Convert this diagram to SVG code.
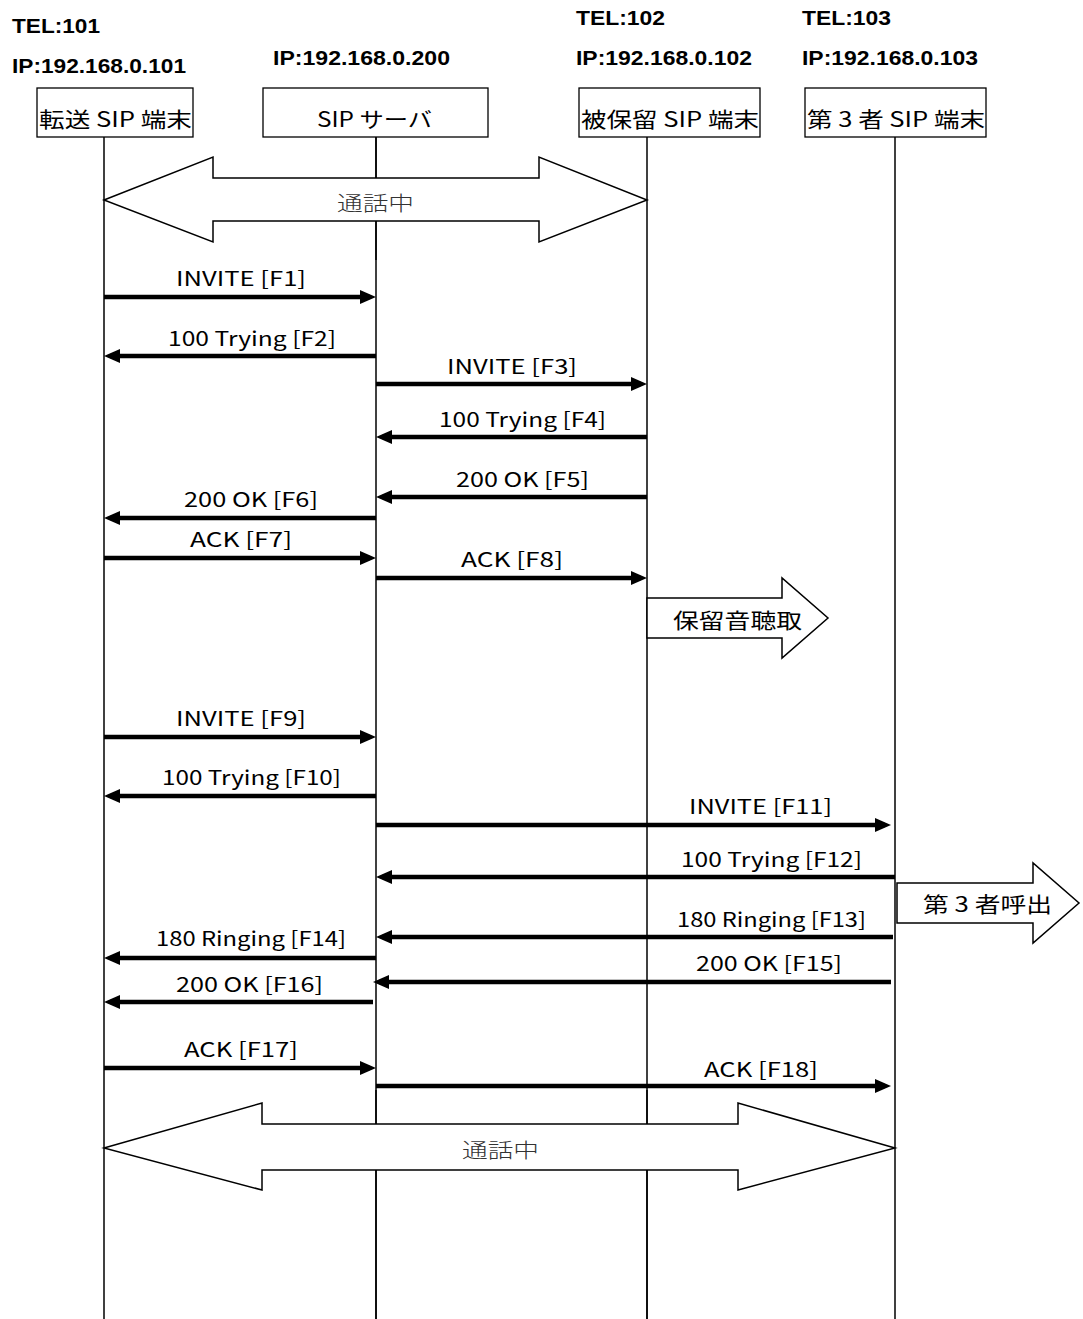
<svg xmlns="http://www.w3.org/2000/svg" width="1083" height="1319" viewBox="0 0 1083 1319">
<style>
.hdr{font-family:"Liberation Sans","Noto Sans CJK JP",sans-serif;font-weight:bold;font-size:20px;fill:#000}
.box{fill:#fff;stroke:#000;stroke-width:1.3}
.nt{font-family:"Noto Sans CJK JP",sans-serif;font-size:21px;fill:#000}
.life{stroke:#000;stroke-width:1.5;fill:none}
.msg{stroke:#000;stroke-width:4.5;fill:none}
.ml{font-family:"Noto Sans CJK JP",sans-serif;font-size:20px;fill:#000}
.blk{fill:#fff;stroke:#000;stroke-width:1.5}
.call{font-family:"Noto Sans CJK JP",sans-serif;font-size:20px;fill:#333;font-weight:300}
.bl{font-family:"Noto Sans CJK JP",sans-serif;font-size:21px;fill:#000}
</style>
<defs>
<marker id="ah" markerUnits="userSpaceOnUse" markerWidth="17" markerHeight="15" refX="10" refY="7" orient="auto">
<path d="M0,0 L16,7 L0,14 z" fill="#000"/>
</marker>
</defs>
<rect width="1083" height="1319" fill="#fff"/>

<g id="lifelines">
<line class="life" x1="104" y1="137" x2="104" y2="1319"/>
<line class="life" x1="376" y1="137" x2="376" y2="1319"/>
<line class="life" x1="647" y1="137" x2="647" y2="1319"/>
<line class="life" x1="895" y1="137" x2="895" y2="1319"/>
</g>

<g id="node-transfer">
<text class="hdr" x="12" y="33" textLength="88" lengthAdjust="spacingAndGlyphs">TEL:101</text>
<text class="hdr" x="12" y="73" textLength="174" lengthAdjust="spacingAndGlyphs">IP:192.168.0.101</text>
<rect class="box" x="37" y="88" width="156" height="49"/>
<text class="nt" x="39" y="127" textLength="153" lengthAdjust="spacingAndGlyphs">転送 SIP 端末</text>
</g>
<g id="node-server">
<text class="hdr" x="273" y="65" textLength="177" lengthAdjust="spacingAndGlyphs">IP:192.168.0.200</text>
<rect class="box" x="263" y="88" width="225" height="49"/>
<text class="nt" x="317" y="127" textLength="115" lengthAdjust="spacingAndGlyphs">SIP サーバ</text>
</g>
<g id="node-held">
<text class="hdr" x="576" y="25" textLength="89" lengthAdjust="spacingAndGlyphs">TEL:102</text>
<text class="hdr" x="576" y="65" textLength="176" lengthAdjust="spacingAndGlyphs">IP:192.168.0.102</text>
<rect class="box" x="579" y="88" width="181" height="49"/>
<text class="nt" x="581" y="127" textLength="178" lengthAdjust="spacingAndGlyphs">被保留 SIP 端末</text>
</g>
<g id="node-third">
<text class="hdr" x="802" y="25" textLength="89" lengthAdjust="spacingAndGlyphs">TEL:103</text>
<text class="hdr" x="802" y="65" textLength="176" lengthAdjust="spacingAndGlyphs">IP:192.168.0.103</text>
<rect class="box" x="805" y="88" width="181" height="49"/>
<text class="nt" x="807" y="127" textLength="178" lengthAdjust="spacingAndGlyphs">第 3 者 SIP 端末</text>
</g>

<g id="call-top">
<polygon class="blk" points="104,200 213,157 213,178 539,178 539,157 647,200 539,242 539,221 213,221 213,242"/>
<line class="life" x1="376" y1="137" x2="376" y2="178"/>
<line class="life" x1="376" y1="221" x2="376" y2="260"/>
<text class="call" x="337" y="211" textLength="77" lengthAdjust="spacingAndGlyphs">通話中</text>
</g>

<g id="hold-tone">
<polygon class="blk" points="647,598 782,598 782,578 828,618 782,658 782,638 647,638"/>
<text class="bl" x="673" y="628" textLength="129" lengthAdjust="spacingAndGlyphs">保留音聴取</text>
</g>

<g id="third-call">
<polygon class="blk" points="897,883 1033,883 1033,863 1079,903 1033,943 1033,923 897,923"/>
<text class="bl" x="923" y="912" textLength="129" lengthAdjust="spacingAndGlyphs">第 3 者呼出</text>
</g>

<g id="call-bottom">
<polygon class="blk" points="104,1148 262,1103 262,1124 738,1124 738,1103 895,1148 738,1190 738,1170 262,1170 262,1190"/>
<line class="life" x1="376" y1="1090" x2="376" y2="1124"/>
<line class="life" x1="647" y1="1090" x2="647" y2="1124"/>
<line class="life" x1="376" y1="1170" x2="376" y2="1319"/>
<line class="life" x1="647" y1="1170" x2="647" y2="1319"/>
<text class="call" x="462" y="1158" textLength="77" lengthAdjust="spacingAndGlyphs">通話中</text>
</g>

<g id="connectors">
<line class="msg" x1="104" y1="297" x2="370" y2="297" marker-end="url(#ah)"/>
<line class="msg" x1="376" y1="356" x2="110" y2="356" marker-end="url(#ah)"/>
<line class="msg" x1="376" y1="384" x2="641" y2="384" marker-end="url(#ah)"/>
<line class="msg" x1="647" y1="437" x2="382" y2="437" marker-end="url(#ah)"/>
<line class="msg" x1="647" y1="497" x2="382" y2="497" marker-end="url(#ah)"/>
<line class="msg" x1="376" y1="518" x2="110" y2="518" marker-end="url(#ah)"/>
<line class="msg" x1="104" y1="558" x2="370" y2="558" marker-end="url(#ah)"/>
<line class="msg" x1="376" y1="578" x2="641" y2="578" marker-end="url(#ah)"/>
<line class="msg" x1="104" y1="737" x2="370" y2="737" marker-end="url(#ah)"/>
<line class="msg" x1="376" y1="796" x2="110" y2="796" marker-end="url(#ah)"/>
<line class="msg" x1="376" y1="825" x2="885" y2="825" marker-end="url(#ah)"/>
<line class="msg" x1="895" y1="877" x2="382" y2="877" marker-end="url(#ah)"/>
<line class="msg" x1="893" y1="937" x2="382" y2="937" marker-end="url(#ah)"/>
<line class="msg" x1="376" y1="958" x2="110" y2="958" marker-end="url(#ah)"/>
<line class="msg" x1="891" y1="982" x2="379" y2="982" marker-end="url(#ah)"/>
<line class="msg" x1="373" y1="1002" x2="110" y2="1002" marker-end="url(#ah)"/>
<line class="msg" x1="104" y1="1068" x2="370" y2="1068" marker-end="url(#ah)"/>
<line class="msg" x1="376" y1="1086" x2="885" y2="1086" marker-end="url(#ah)"/>
</g>

<g id="labels">
<text class="ml" x="176" y="286" textLength="130" lengthAdjust="spacingAndGlyphs">INVITE [F1]</text>
<text class="ml" x="168" y="346" textLength="168" lengthAdjust="spacingAndGlyphs">100 Trying [F2]</text>
<text class="ml" x="447" y="374" textLength="130" lengthAdjust="spacingAndGlyphs">INVITE [F3]</text>
<text class="ml" x="439" y="427" textLength="167" lengthAdjust="spacingAndGlyphs">100 Trying [F4]</text>
<text class="ml" x="456" y="487" textLength="133" lengthAdjust="spacingAndGlyphs">200 OK [F5]</text>
<text class="ml" x="184" y="507" textLength="134" lengthAdjust="spacingAndGlyphs">200 OK [F6]</text>
<text class="ml" x="190" y="547" textLength="102" lengthAdjust="spacingAndGlyphs">ACK [F7]</text>
<text class="ml" x="461" y="567" textLength="102" lengthAdjust="spacingAndGlyphs">ACK [F8]</text>
<text class="ml" x="176" y="726" textLength="130" lengthAdjust="spacingAndGlyphs">INVITE [F9]</text>
<text class="ml" x="162" y="785" textLength="179" lengthAdjust="spacingAndGlyphs">100 Trying [F10]</text>
<text class="ml" x="689" y="814" textLength="143" lengthAdjust="spacingAndGlyphs">INVITE [F11]</text>
<text class="ml" x="681" y="867" textLength="181" lengthAdjust="spacingAndGlyphs">100 Trying [F12]</text>
<text class="ml" x="677" y="927" textLength="189" lengthAdjust="spacingAndGlyphs">180 Ringing [F13]</text>
<text class="ml" x="156" y="946" textLength="190" lengthAdjust="spacingAndGlyphs">180 Ringing [F14]</text>
<text class="ml" x="696" y="971" textLength="146" lengthAdjust="spacingAndGlyphs">200 OK [F15]</text>
<text class="ml" x="176" y="992" textLength="147" lengthAdjust="spacingAndGlyphs">200 OK [F16]</text>
<text class="ml" x="184" y="1057" textLength="114" lengthAdjust="spacingAndGlyphs">ACK [F17]</text>
<text class="ml" x="704" y="1077" textLength="114" lengthAdjust="spacingAndGlyphs">ACK [F18]</text>
</g>
</svg>
